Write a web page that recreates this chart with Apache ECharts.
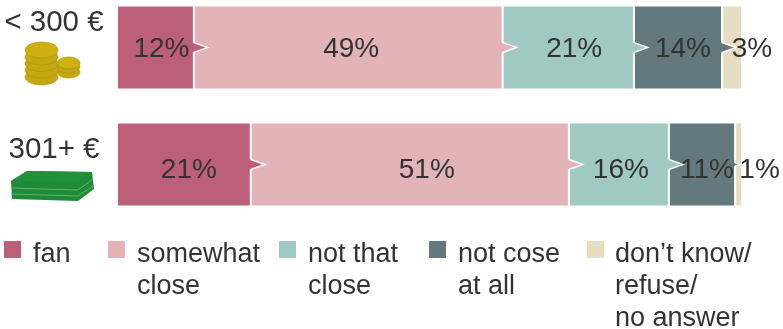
<!DOCTYPE html>
<html><head><meta charset="utf-8">
<style>html,body{margin:0;padding:0;background:#fff}#c{width:783px;height:329px}</style>
<script src="https://cdn.jsdelivr.net/npm/echarts@6/dist/echarts.min.js"></script>
</head><body><div id="c"></div>
<script>
const categories = ['< 300 €', '301+ €'];
const seriesNames = ['fan', 'somewhat close', 'not that close', 'not cose at all', "don't know/refuse/no answer"];
const fan = [12.3, 21.4];
const somewhatClose = [49.4, 50.9];
const notThatClose = [21.0, 16.0];
const notCloseAtAll = [14.1, 10.6];
const dontKnow = [3.2, 1.1];
const shownFan = [12, 21];
const shownSomewhat = [49, 51];
const shownNotThat = [21, 16];
const shownNotClose = [14, 11];
const shownDontKnow = [3, 1];
const legendTexts = ['fan', 'somewhat\nclose', 'not that\nclose', 'not cose\nat all', 'don’t know/\nrefuse/\nno answer'];

const values = [fan, somewhatClose, notThatClose, notCloseAtAll, dontKnow];
const shown = [shownFan, shownSomewhat, shownNotThat, shownNotClose, shownDontKnow];
const colors = ['#bc6079', '#e2b3b7', '#a1c9c3', '#63797d', '#e5dec0'];
const ink = '#333333';
const font = '"Liberation Sans", Arial, sans-serif';
const labelDx = [[6, 3, 6, 5, 20], [5, 17, 2, 5, 21]];
const labelDy = [2, 6];
const catLift = [50, 30];

const notchRows = [];
categories.forEach((c, ci) => {
  let cum = 0;
  values.forEach((v, si) => {
    const start = cum; cum += v[ci];
    notchRows.push([cum, ci, si, start]);
  });
});

const chart = echarts.init(document.getElementById('c'), null, {renderer: 'canvas'});

const swatchX = [4, 108, 279, 429, 587];
const textX = [33, 137, 308, 458, 615];
const legendGraphics = [];
legendTexts.forEach((t, i) => {
  legendGraphics.push({type: 'rect', shape: {x: swatchX[i], y: 241, width: 17, height: 17}, style: {fill: colors[i]}, silent: true});
  legendGraphics.push({type: 'text', x: textX[i], y: 239, style: {text: t, fontFamily: font, fontSize: 27, lineHeight: 32, fill: ink, textVerticalAlign: 'top'}, silent: true});
});

const coin = (cx, cy, rx, ry, fill) => ({type: 'ellipse', shape: {cx, cy, rx, ry}, style: {fill, stroke: '#a8900e', lineWidth: 0.6}, silent: true});
const coinGraphics = [];
[72, 67, 63].forEach((y, i) => coinGraphics.push(coin(68.5, y, 11.5, 6, i === 2 ? '#cfb010' : '#c4a812')));
[77, 70, 63.5, 57, 50].forEach((y, i) => coinGraphics.push(coin(41.5, y, 16.5, 8, i === 4 ? '#cfb010' : '#c4a812')));

const billLine = pts => ({type: 'polyline', shape: {points: pts}, style: {stroke: '#5cb870', lineWidth: 1, fill: null}, silent: true});
const billGraphics = [
  {type: 'polygon', shape: {points: [[11, 181], [27, 171], [92, 172], [94, 189], [78, 201], [12, 199]]}, style: {fill: '#1f8a38'}, silent: true},
  {type: 'polygon', shape: {points: [[11, 181], [27, 171], [92, 172], [78, 182]]}, style: {fill: '#23913c'}, silent: true},
  billLine([[11, 188], [78, 190], [93, 179]]),
  billLine([[11, 194], [78, 196], [94, 185]])
];

chart.setOption({
  animation: false,
  backgroundColor: '#fff',
  grid: {left: 117, width: 625, top: 47.5, height: 117, containLabel: false},
  xAxis: {type: 'value', min: 0, max: 100, show: false},
  yAxis: {
    type: 'category', data: categories, inverse: true, boundaryGap: false,
    axisLine: {show: false}, axisTick: {show: false}, splitLine: {show: false},
    axisLabel: {
      margin: 63, align: 'center', interval: 0,
      formatter: (v, i) => `{r${i}|${v}}`,
      rich: {
        r0: {fontFamily: font, fontSize: 29.5, color: ink, padding: [0, 0, catLift[0], 0]},
        r1: {fontFamily: font, fontSize: 29.5, color: ink, padding: [0, 0, catLift[1], 0]}
      }
    }
  },
  series: values.map((v, i) => ({
    name: seriesNames[i], type: 'bar', stack: 'share', barWidth: 84, clip: false, data: v,
    itemStyle: {color: colors[i], borderColor: '#fff', borderWidth: 1}
  })).concat([{
    name: 'callouts', type: 'custom', z: 5, silent: true, clip: false, data: notchRows,
    encode: {x: 0, y: 1},
    renderItem: (params, api) => {
      const cum = api.value(0), ci = api.value(1), si = api.value(2), start = api.value(3);
      const p = api.coord([cum, ci]);
      const s = api.coord([start, ci]);
      const yc = p[1];
      const children = [];
      if (si < 4) {
        const nextEnd = api.coord([cum + values[si + 1][ci], ci])[0];
        const x = p[0], len = Math.min(14, nextEnd - x - 2), h = 5 * len / 14;
        children.push({type: 'polygon', shape: {points: [[x - 2, yc - h], [x, yc - h], [x + len, yc], [x, yc + h], [x - 2, yc + h]]}, style: {fill: colors[si]}, z2: 10});
        children.push({type: 'polyline', shape: {points: [[x, yc - h], [x + len, yc], [x, yc + h]]}, style: {stroke: '#fff', lineWidth: 1.4, fill: null}, z2: 11});
      }
      children.push({type: 'text', x: (s[0] + p[0]) / 2 + labelDx[ci][si], y: p[1] + labelDy[ci],
        style: {text: shown[si][ci] + '%', fontFamily: font, fontSize: 28, fill: ink, textAlign: 'center', textVerticalAlign: 'middle'}, z2: 50});
      return {type: 'group', children};
    }
  }]),
  graphic: {elements: [...coinGraphics, ...billGraphics, ...legendGraphics]}
});
</script></body></html>
